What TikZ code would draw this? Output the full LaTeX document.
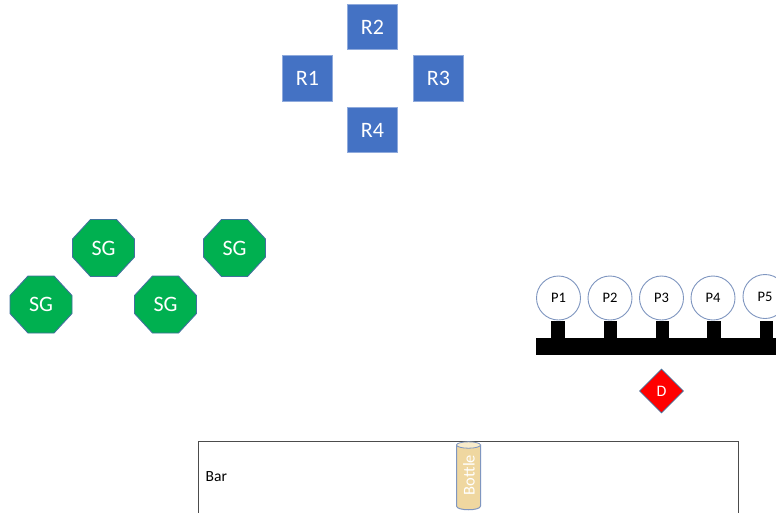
\documentclass[tikz,border=0pt]{standalone}
\usepackage{fontspec}
\usetikzlibrary{shapes.geometric}
\setmainfont{Carlito}
\definecolor{rblue}{HTML}{4472C4}
\definecolor{rline}{HTML}{8FAADC}
\definecolor{sgreen}{HTML}{00B050}
\definecolor{sline}{HTML}{41719C}
\definecolor{tan}{HTML}{EFD7A0}
\definecolor{tanlight}{HTML}{F8EBCB}
\definecolor{pline}{HTML}{7F96C0}
\tikzset{
  room/.style={draw=rline,line width=0.7pt,fill=rblue,text=white,minimum width=50.5pt,minimum height=45.5pt,inner sep=0pt,font=\fontsize{22}{26}\selectfont},
  sgoct/.style={draw=sline,line width=0.9pt,fill=sgreen,line join=miter},
  sglabel/.style={text=white,inner sep=0pt,font=\fontsize{22}{26}\selectfont},
  pball/.style={circle,draw=pline,line width=0.9pt,fill=white,minimum size=44pt,inner sep=0pt,font=\fontsize{14.5}{17}\selectfont},
  stem/.style={fill=black,draw=none,minimum width=13.5pt,minimum height=17pt,inner sep=0pt},
  barbox/.style={draw=black!70,line width=0.8pt,fill=white},
}
\newcommand{\sgnode}[3]{%
  \draw[sgoct] (#2-31,#3-9)--(#2-13,#3-28.5)--(#2+13,#3-28.5)--(#2+31,#3-9)--(#2+31,#3+9)--(#2+13,#3+28.5)--(#2-13,#3+28.5)--(#2-31,#3+9)--cycle;
  \node[sglabel] (#1) at (#2,#3) {SG};}
\begin{document}
\begin{tikzpicture}[x=1pt,y=-1pt]
\useasboundingbox (0,0) rectangle (776,512);
\fill[white] (0,0) rectangle (776,512);
\node[room] (r2) at (372.5,27) {R2};
\node[room] (r1) at (307.5,78.5) {R1};
\node[room] (r3) at (438.5,78.5) {R3};
\node[room] (r4) at (372.5,130) {R4};
\sgnode{sg1}{103.5}{248}
\sgnode{sg2}{234.5}{248}
\sgnode{sg3}{41}{304.5}
\sgnode{sg4}{165.5}{304.5}
% stems and rail
\fill[black] (536,338) rectangle (776,355);
\node[stem,minimum height=18pt] (s1) at (558,329.5) {};
\node[stem] (s2) at (610.5,329.5) {};
\node[stem] (s3) at (662.5,329.5) {};
\node[stem] (s4) at (714,329.5) {};
\node[stem] (s5) at (766.5,329.5) {};
\node[pball] (p1) at (558.5,298) {P1};
\node[pball] (p2) at (610,298) {P2};
\node[pball] (p3) at (661.5,298) {P3};
\node[pball] (p4) at (713,298) {P4};
\node[pball] (p5) at (765,296.5) {P5};
\node[diamond,draw=sline,line width=0.8pt,fill=red,text=white,minimum width=44pt,minimum height=44pt,inner sep=0pt,font=\fontsize{16}{18}\selectfont] (d) at (661.5,391) {D};
% bar
\draw[barbox] (198.5,441) rectangle (738.5,513);
\node[anchor=west,inner sep=0pt,font=\fontsize{15.5}{18}\selectfont] (bar) at (205.5,477) {Bar};
% bottle
\draw[draw=pline,line width=1pt,fill=tan] (456.5,445) -- (456.5,506) .. controls (456.5,511) and (480.5,511) .. (480.5,506) -- (480.5,445) -- cycle;
\draw[draw=pline,line width=0.8pt,fill=tanlight] (468.5,445) ellipse[x radius=12,y radius=3.2];
\node[rotate=90,text=white,inner sep=0pt,font=\fontsize{16.5}{20}\selectfont] (bottle) at (469,475) {Bottle};
\end{tikzpicture}
\end{document}
